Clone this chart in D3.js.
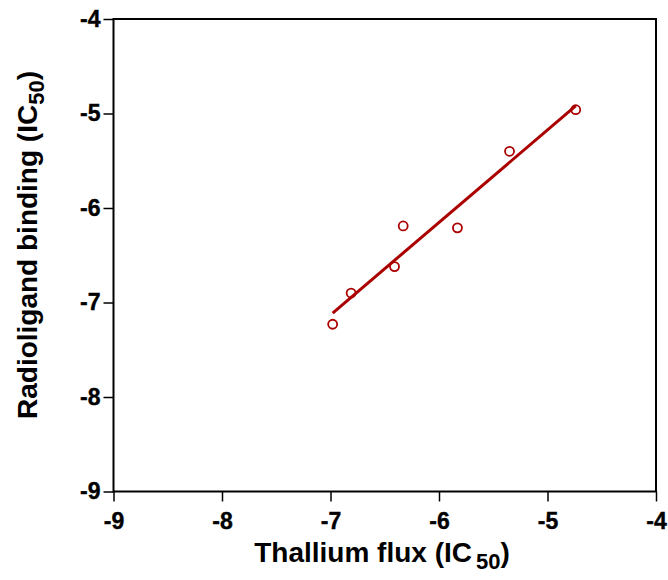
<!DOCTYPE html>
<html>
<head>
<meta charset="utf-8">
<script src="https://cdn.jsdelivr.net/npm/d3@7"></script>
<style>
  body { margin: 0; background: #fff; }
  text { font-family: "Liberation Sans", Arial, sans-serif; font-weight: bold; }
</style>
</head>
<body>
<script>
// data (log IC50 values)
var fluxIC50 = [-6.98, -6.81, -6.41, -6.33, -5.83, -5.35, -4.74];
var bindingIC50 = [-7.23, -6.90, -6.62, -6.19, -6.21, -5.40, -4.96];
var xTicks = [-9, -8, -7, -6, -5, -4];
var yTicks = [-9, -8, -7, -6, -5, -4];

var svgWidth = 668, svgHeight = 580;
var margin = { top: 19, right: 12, bottom: 88.5, left: 113.5 };
var width = svgWidth - margin.left - margin.right;
var height = svgHeight - margin.top - margin.bottom;

var svg = d3.select("body").append("svg")
  .attr("width", svgWidth)
  .attr("height", svgHeight);

var chart = svg.append("g")
  .attr("transform", `translate(${margin.left}, ${margin.top})`);

var x = d3.scaleLinear().domain([-9, -4]).range([0, width]);
var y = d3.scaleLinear().domain([-9, -4]).range([height, 0]);

// frame
chart.append("rect")
  .attr("width", width)
  .attr("height", height)
  .attr("fill", "none")
  .attr("stroke", "#000")
  .attr("stroke-width", 2);

var xAxis = chart.append("g")
  .attr("transform", "translate(0," + height + ")")
  .call(d3.axisBottom(x).tickValues(xTicks).tickSize(10).tickPadding(11)
    .tickFormat(function(d) { return "-" + Math.abs(d); }));

var yAxis = chart.append("g")
  .call(d3.axisLeft(y).tickValues(yTicks).tickSize(10).tickPadding(3)
    .tickFormat(function(d) { return "-" + Math.abs(d); }));

[xAxis, yAxis].forEach(function(a) {
  a.attr("font-family", "Liberation Sans, Arial, sans-serif")
    .attr("font-weight", "bold")
    .attr("font-size", 23);
  a.select(".domain").remove();
  a.selectAll(".tick line").attr("stroke", "#000").attr("stroke-width", 1.5);
  a.selectAll(".tick text")
    .attr("fill", "#000")
    .attr("stroke", "#000")
    .attr("stroke-width", 0.4);
});

// linear regression line
var n = fluxIC50.length;
var mx = d3.mean(fluxIC50), my = d3.mean(bindingIC50);
var sxy = 0, sxx = 0;
for (var i = 0; i < n; i++) {
  sxy += (fluxIC50[i] - mx) * (bindingIC50[i] - my);
  sxx += (fluxIC50[i] - mx) * (fluxIC50[i] - mx);
}
var slope = sxy / sxx, intercept = my - slope * mx;
var xr = d3.extent(fluxIC50);

chart.append("line")
  .attr("x1", x(xr[0])).attr("y1", y(slope * xr[0] + intercept))
  .attr("x2", x(xr[1])).attr("y2", y(slope * xr[1] + intercept))
  .attr("stroke", "#aa0000")
  .attr("stroke-width", 3);

chart.selectAll("circle.pt")
  .data(fluxIC50)
  .enter().append("circle")
  .attr("class", "pt")
  .attr("cx", function(d) { return x(d); })
  .attr("cy", function(d, i) { return y(bindingIC50[i]); })
  .attr("r", 4.5)
  .attr("fill", "none")
  .attr("stroke", "#aa0000")
  .attr("stroke-width", 1.8);

// axis titles
var xt = svg.append("text")
  .attr("x", 382)
  .attr("y", 562)
  .attr("text-anchor", "middle")
  .style("font-size", "28px");
xt.append("tspan").text("Thallium flux (IC");
xt.append("tspan").attr("dx", 4).attr("dy", 7).style("font-size", "22px").text("50");
xt.append("tspan").attr("dy", -7).text(")");

var yt = svg.append("text")
  .attr("transform", "translate(37,245) rotate(-90)")
  .attr("text-anchor", "middle")
  .style("font-size", "28px");
yt.append("tspan").text("Radioligand binding (IC");
yt.append("tspan").attr("dy", 7).style("font-size", "22px").text("50");
yt.append("tspan").attr("dy", -7).text(")");
</script>
</body>
</html>
